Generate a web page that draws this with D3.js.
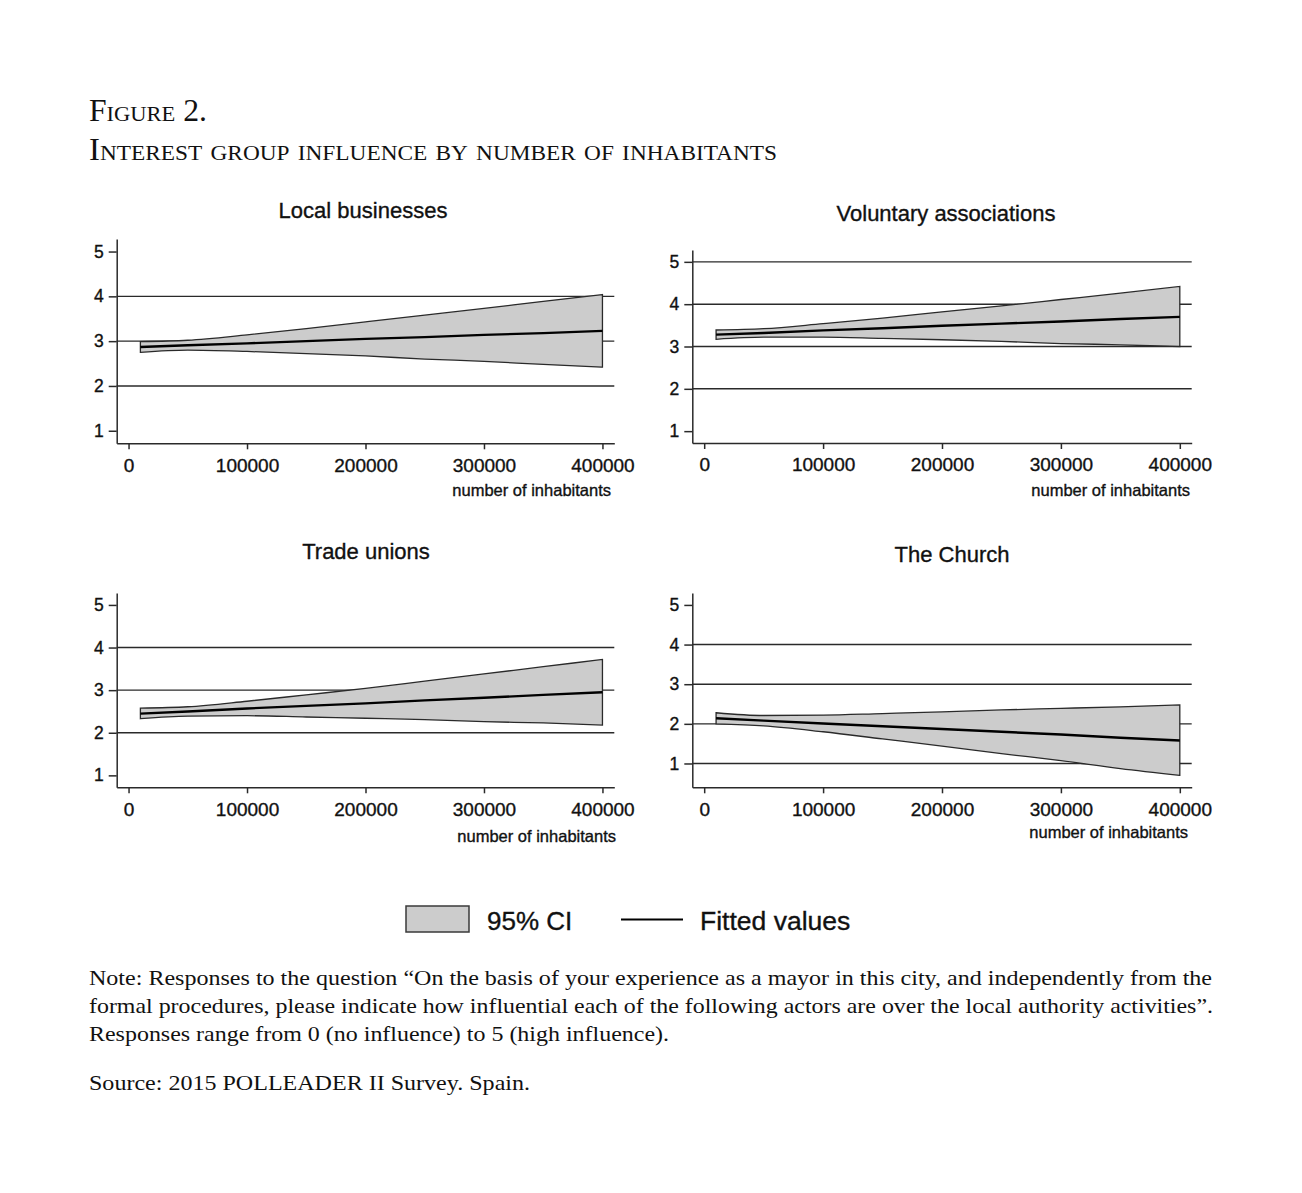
<!DOCTYPE html>
<html>
<head>
<meta charset="utf-8">
<script src="https://cdn.jsdelivr.net/npm/d3@7"></script>
<style>
  html, body { margin: 0; padding: 0; background: #ffffff; }
  svg { display: block; }
</style>
</head>
<body>
<svg id="chart" width="1302" height="1193"></svg>
<script>
// ---------------- DATA ----------------
const figureLabel = "Figure 2.";
const figureTitle = "Interest group influence by number of inhabitants";
const panelTitles = ["Local businesses", "Voluntary associations", "Trade unions", "The Church"];
const xAxisTitle = "number of inhabitants";
const xTicks = [0, 100000, 200000, 300000, 400000];
const yTicks = [1, 2, 3, 4, 5];

// number of inhabitants at which the fitted values / CI were read
const inhabitants = [10000, 50000, 100000, 150000, 200000, 250000, 300000, 350000, 400000];

const fittedLocal  = [2.87, 2.91, 2.95, 3.00, 3.05, 3.09, 3.14, 3.18, 3.23];
const upperLocal   = [2.99, 3.02, 3.14, 3.28, 3.43, 3.58, 3.73, 3.89, 4.04];
const lowerLocal   = [2.75, 2.80, 2.77, 2.72, 2.67, 2.60, 2.55, 2.48, 2.42];

const fittedVolunt = [3.28, 3.32, 3.38, 3.43, 3.49, 3.54, 3.59, 3.65, 3.70];
const upperVolunt  = [3.39, 3.42, 3.54, 3.67, 3.82, 3.96, 4.11, 4.26, 4.42];
const lowerVolunt  = [3.17, 3.22, 3.22, 3.19, 3.16, 3.12, 3.07, 3.04, 3.00];

const fittedUnions = [2.45, 2.50, 2.57, 2.63, 2.69, 2.76, 2.82, 2.89, 2.95];
const upperUnions  = [2.58, 2.61, 2.74, 2.89, 3.04, 3.21, 3.38, 3.55, 3.72];
const lowerUnions  = [2.33, 2.39, 2.40, 2.37, 2.34, 2.31, 2.26, 2.23, 2.18];

const fittedChurch = [2.14, 2.08, 2.01, 1.94, 1.87, 1.80, 1.73, 1.65, 1.58];
const upperChurch  = [2.28, 2.21, 2.22, 2.26, 2.30, 2.35, 2.39, 2.43, 2.48];
const lowerChurch  = [2.00, 1.95, 1.80, 1.62, 1.44, 1.25, 1.07, 0.87, 0.70];

// horizontal grid lines drawn in each panel
const gridLocal  = [2, 3, 4];
const gridVolunt = [2, 3, 4, 5];
const gridUnions = [2, 3, 4];
const gridChurch = [1, 2, 3, 4];

const legendLabels = ["95% CI", "Fitted values"];

const noteLines = [
  "Note: Responses to the question \u201COn the basis of your experience as a mayor in this city, and independently from the",
  "formal procedures, please indicate how influential each of the following actors are over the local authority activities\u201D.",
  "Responses range from 0 (no influence) to 5 (high influence)."
];
const sourceLine = "Source: 2015 POLLEADER II Survey. Spain.";

// ---------------- LAYOUT ----------------
const SANS = "'Liberation Sans', Arial, Helvetica, sans-serif";
const SERIF = "'Liberation Serif', 'Times New Roman', serif";
const INK = "#111";
const TXT_STROKE = 0.35;

const panelData = [
  { fitted: fittedLocal,  upper: upperLocal,  lower: lowerLocal,  grid: gridLocal },
  { fitted: fittedVolunt, upper: upperVolunt, lower: lowerVolunt, grid: gridVolunt },
  { fitted: fittedUnions, upper: upperUnions, lower: lowerUnions, grid: gridUnions },
  { fitted: fittedChurch, upper: upperChurch, lower: lowerChurch, grid: gridChurch }
];
const panelLayout = [
  { left: 116.7, right: 614.3,  top: 239, bottom: 443.3, titleX: 363, titleY: 218, xtRight: 611,  xtY: 496 },
  { left: 692.3, right: 1191.7, top: 250, bottom: 443,   titleX: 946, titleY: 221, xtRight: 1190, xtY: 496 },
  { left: 116.7, right: 614.3,  top: 593, bottom: 787.3, titleX: 366, titleY: 559, xtRight: 616,  xtY: 842 },
  { left: 692.3, right: 1191.7, top: 593, bottom: 787.3, titleX: 952, titleY: 562, xtRight: 1188, xtY: 838 }
];

const svg = d3.select("#chart");
svg.append("rect").attr("width", 1302).attr("height", 1193).attr("fill", "#ffffff");

function inked(sel) {
  return sel.attr("fill", INK).attr("stroke", INK).attr("stroke-width", TXT_STROKE);
}

// ---------------- HEADINGS ----------------
svg.append("text")
  .attr("x", 89).attr("y", 121)
  .attr("font-family", SERIF).attr("font-size", 31)
  .style("font-variant", "small-caps")
  .attr("textLength", 118).attr("lengthAdjust", "spacingAndGlyphs")
  .attr("fill", INK)
  .text(figureLabel);
svg.append("text")
  .attr("x", 89).attr("y", 160)
  .attr("font-family", SERIF).attr("font-size", 31)
  .style("font-variant", "small-caps")
  .attr("textLength", 688).attr("lengthAdjust", "spacingAndGlyphs")
  .attr("fill", INK)
  .text(figureTitle);

// ---------------- PANELS ----------------
panelData.forEach((pd, i) => {
  const L = panelLayout[i];
  const g = svg.append("g");

  const lo = Math.min(1, d3.min(pd.lower));
  const hi = Math.max(5, d3.max(pd.upper));
  const pad = 0.07 * (hi - lo);

  const x = d3.scaleLinear().domain([-10000, 410000]).range([L.left, L.right]);
  const y = d3.scaleLinear().domain([lo - pad, hi + pad]).range([L.bottom, L.top]);

  // grid lines
  g.selectAll("line.grid").data(pd.grid).join("line")
    .attr("class", "grid")
    .attr("x1", L.left).attr("x2", L.right)
    .attr("y1", d => y(d)).attr("y2", d => y(d))
    .attr("stroke", "#2a2a2a").attr("stroke-width", 1.4);

  const rows = inhabitants.map((v, k) => ({ x: v, f: pd.fitted[k], u: pd.upper[k], l: pd.lower[k] }));

  // CI band
  const area = d3.area()
    .x(d => x(d.x)).y0(d => y(d.l)).y1(d => y(d.u))
    .curve(d3.curveMonotoneX);
  g.append("path").datum(rows)
    .attr("d", area)
    .attr("fill", "#cccccc")
    .attr("stroke", "#2a2a2a").attr("stroke-width", 1.3)
    .attr("stroke-linejoin", "miter");

  // fitted line
  const line = d3.line().x(d => x(d.x)).y(d => y(d.f));
  g.append("path").datum(rows)
    .attr("d", line)
    .attr("fill", "none")
    .attr("stroke", "#000").attr("stroke-width", 2.4);

  // axes
  const yAxis = d3.axisLeft(y).tickValues(yTicks).tickFormat(d3.format("d"))
    .tickSize(8).tickSizeOuter(0).tickPadding(5);
  const ga = g.append("g").attr("transform", `translate(${L.left},0)`).call(yAxis);
  ga.selectAll("path, line").attr("stroke", "#2a2a2a").attr("stroke-width", 1.5);
  inked(ga.selectAll("text")).attr("font-family", SANS).attr("font-size", 17.5);

  const xAxis = d3.axisBottom(x).tickValues(xTicks).tickFormat(d3.format("d"))
    .tickSize(6).tickSizeOuter(0).tickPadding(9);
  const gx = g.append("g").attr("transform", `translate(0,${L.bottom})`).call(xAxis);
  gx.selectAll("path, line").attr("stroke", "#2a2a2a").attr("stroke-width", 1.5);
  inked(gx.selectAll("text")).attr("font-family", SANS).attr("font-size", 19);

  // titles
  inked(g.append("text"))
    .attr("x", L.titleX).attr("y", L.titleY)
    .attr("text-anchor", "middle")
    .attr("font-family", SANS).attr("font-size", 22)
    .text(panelTitles[i]);
  inked(g.append("text"))
    .attr("x", L.xtRight).attr("y", L.xtY)
    .attr("text-anchor", "end")
    .attr("font-family", SANS).attr("font-size", 16.5)
    .text(xAxisTitle);
});

// ---------------- LEGEND ----------------
const lg = svg.append("g");
lg.append("rect")
  .attr("x", 406).attr("y", 906).attr("width", 63).attr("height", 26)
  .attr("fill", "#cccccc").attr("stroke", "#3a3a3a").attr("stroke-width", 1.5);
inked(lg.append("text"))
  .attr("x", 487).attr("y", 929.5)
  .attr("font-family", SANS).attr("font-size", 26)
  .text(legendLabels[0]);
lg.append("line")
  .attr("x1", 621).attr("x2", 683).attr("y1", 919.5).attr("y2", 919.5)
  .attr("stroke", "#000").attr("stroke-width", 2);
inked(lg.append("text"))
  .attr("x", 700).attr("y", 929.5)
  .attr("font-family", SANS).attr("font-size", 26.5)
  .text(legendLabels[1]);

// ---------------- NOTES ----------------
const noteWidths = [1123, 1124, 580];
const noteY = [985, 1013, 1041];
noteLines.forEach((t, k) => {
  svg.append("text")
    .attr("x", 89).attr("y", noteY[k])
    .attr("font-family", SERIF).attr("font-size", 21).attr("fill", INK)
    .attr("textLength", noteWidths[k]).attr("lengthAdjust", "spacingAndGlyphs")
    .text(t);
});
svg.append("text")
  .attr("x", 89).attr("y", 1090)
  .attr("font-family", SERIF).attr("font-size", 21).attr("fill", INK)
  .attr("textLength", 441).attr("lengthAdjust", "spacingAndGlyphs")
  .text(sourceLine);
</script>
</body>
</html>
